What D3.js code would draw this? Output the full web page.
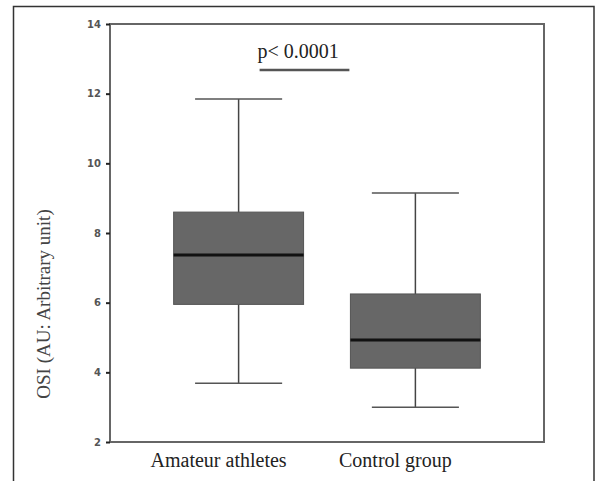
<!DOCTYPE html>
<html>
<head>
<meta charset="utf-8">
<script src="https://cdn.jsdelivr.net/npm/d3@7"></script>
<style>
  html, body { margin: 0; padding: 0; background: #fff; }
  svg { display: block; }
</style>
</head>
<body>
<div id="chart"></div>
<script>
// data
const groups = ['Amateur athletes', 'Control group']
const whiskerLow = [3.69, 3.0]
const q1 = [5.95, 4.12]
const median = [7.37, 4.93]
const q3 = [8.6, 6.25]
const whiskerHigh = [11.85, 9.15]
const yTicks = [2, 4, 6, 8, 10, 12, 14]
const sigLabel = 'p< 0.0001'
const sigValue = 12.68

const W = 596, H = 481
const plot = { left: 110, top: 24, right: 544, bottom: 442 }

const svg = d3.select('#chart').append('svg')
  .attr('width', W)
  .attr('height', H)

// outer frame (open at the bottom, cut by the page)
svg.append('path')
  .attr('d', `M13.5,${H} V6.5 H594 V${H}`)
  .attr('fill', 'none')
  .attr('stroke', '#333')
  .attr('stroke-width', 1.5)

const x = d3.scaleBand()
  .domain(groups)
  .range([plot.left, plot.right])
  .paddingInner(0.265)
  .paddingOuter(0.36)

const y = d3.scaleLinear()
  .domain([2, 14])
  .range([plot.bottom, plot.top])

// plot frame
svg.append('rect')
  .attr('x', plot.left)
  .attr('y', plot.top)
  .attr('width', plot.right - plot.left)
  .attr('height', plot.bottom - plot.top)
  .attr('fill', 'none')
  .attr('stroke', '#666')
  .attr('stroke-width', 2)

// y axis
const yAxis = svg.append('g')
  .attr('transform', `translate(${plot.left},0)`)
  .call(d3.axisLeft(y).tickValues(yTicks).tickSize(4).tickPadding(5))
yAxis.select('.domain').remove()
yAxis.selectAll('.tick line').attr('stroke', '#222').attr('stroke-width', 2)
yAxis.selectAll('.tick text')
  .attr('fill', '#555')
  .attr('font-family', 'DejaVu Sans, sans-serif')
  .attr('font-weight', 'bold')
  .attr('font-size', 10)

// y label
svg.append('text')
  .attr('transform', 'translate(50,304) rotate(-90)')
  .attr('text-anchor', 'middle')
  .attr('font-family', 'Liberation Serif, Times New Roman, serif')
  .attr('font-size', 19)
  .attr('fill', '#444')
  .text('OSI (AU: Arbitrary unit)')

// x labels
svg.selectAll('.xlab')
  .data(groups)
  .join('text')
  .attr('class', 'xlab')
  .attr('x', d => x(d) + x.bandwidth() / 2 - 20)
  .attr('y', 467)
  .attr('text-anchor', 'middle')
  .attr('font-family', 'Liberation Serif, Times New Roman, serif')
  .attr('font-size', 20)
  .attr('fill', '#222')
  .text(d => d)

// boxes
const bw = x.bandwidth()
const capW = bw * 0.67
const boxes = svg.selectAll('.box')
  .data(groups)
  .join('g')
  .attr('class', 'box')

boxes.append('line')
  .attr('x1', d => x(d) + bw / 2)
  .attr('x2', d => x(d) + bw / 2)
  .attr('y1', (d, i) => y(whiskerHigh[i]))
  .attr('y2', (d, i) => y(whiskerLow[i]))
  .attr('stroke', '#444')
  .attr('stroke-width', 1.5)

boxes.selectAll('.cap')
  .data((d, i) => [whiskerLow[i], whiskerHigh[i]].map(v => ({ d, v })))
  .join('line')
  .attr('class', 'cap')
  .attr('x1', o => x(o.d) + bw / 2 - capW / 2)
  .attr('x2', o => x(o.d) + bw / 2 + capW / 2)
  .attr('y1', o => y(o.v))
  .attr('y2', o => y(o.v))
  .attr('stroke', '#555')
  .attr('stroke-width', 1.5)

boxes.append('rect')
  .attr('x', d => x(d))
  .attr('width', bw)
  .attr('y', (d, i) => y(q3[i]))
  .attr('height', (d, i) => y(q1[i]) - y(q3[i]))
  .attr('fill', '#676767')
  .attr('stroke', '#555')
  .attr('stroke-width', 1)

boxes.append('line')
  .attr('x1', d => x(d))
  .attr('x2', d => x(d) + bw)
  .attr('y1', (d, i) => y(median[i]))
  .attr('y2', (d, i) => y(median[i]))
  .attr('stroke', '#111')
  .attr('stroke-width', 3)

// significance bar
const sx1 = x(groups[0]) + bw / 2 + 21
const sx2 = x(groups[1]) + bw / 2 - 66
svg.append('line')
  .attr('x1', sx1)
  .attr('x2', sx2)
  .attr('y1', y(sigValue))
  .attr('y2', y(sigValue))
  .attr('stroke', '#555')
  .attr('stroke-width', 2.5)

svg.append('text')
  .attr('x', sx1 - 2)
  .attr('y', y(sigValue) - 12)
  .attr('font-family', 'Liberation Serif, Times New Roman, serif')
  .attr('font-size', 20)
  .attr('fill', '#222')
  .text(sigLabel)
</script>
</body>
</html>
